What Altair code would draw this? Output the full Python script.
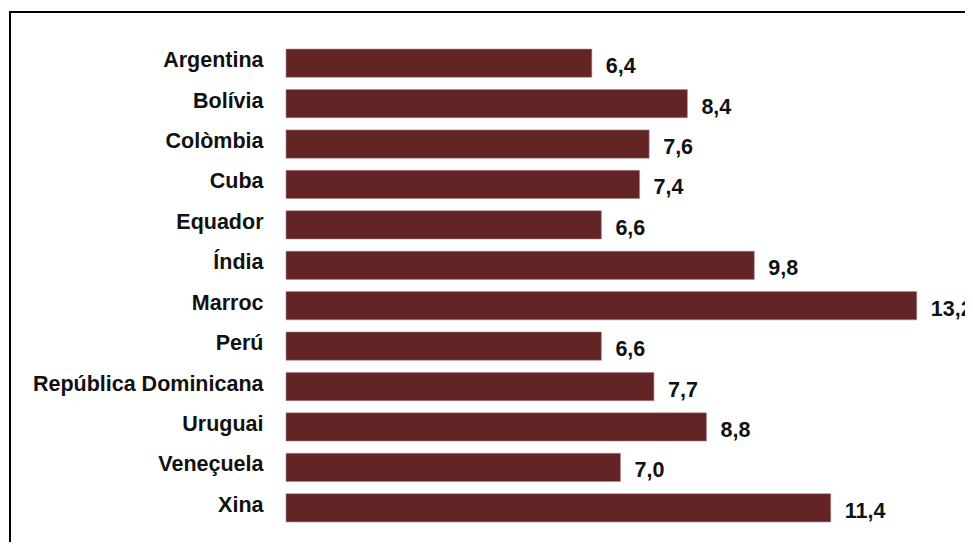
import altair as alt
import pandas as pd

countries = ["Argentina", "Bolívia", "Colòmbia", "Cuba", "Equador", "Índia", "Marroc",
             "Perú", "República Dominicana", "Uruguai", "Veneçuela", "Xina"]
values = [6.4, 8.4, 7.6, 7.4, 6.6, 9.8, 13.2, 6.6, 7.7, 8.8, 7.0, 11.4]
labels = [f"{v:.1f}".replace(".", ",") for v in values]

df = pd.DataFrame({"country": countries, "value": values, "label": labels})

FONT = "Liberation Sans, Arial, sans-serif"
COLOR = "#632425"

y_enc = alt.Y("country:N", sort=countries, title=None,
              scale=alt.Scale(paddingInner=0.3, paddingOuter=0.15),
              axis=alt.Axis(domain=False, ticks=False, labelPadding=23, labelOffset=-2,
                            labelFont=FONT, labelFontSize=21.5, labelFontWeight="bold",
                            labelColor="#111111", labelLimit=400))
x_enc = alt.X("value:Q", title=None, scale=alt.Scale(domain=[0, 14]), axis=None)

bars = alt.Chart(df).mark_bar(color=COLOR, stroke="#b08a8a", strokeWidth=0.6).encode(x=x_enc, y=y_enc)

text = alt.Chart(df).mark_text(align="left", baseline="middle", dx=14, dy=4,
                               font=FONT, fontSize=21.5, fontWeight="bold",
                               color="#111111").encode(x=x_enc, y=y_enc, text="label:N")

frame = alt.Chart(df).mark_rect(fill=None, stroke="black", strokeWidth=2).encode(
    x=alt.value(-276), x2=alt.value(1200), y=alt.value(-31), y2=alt.value(1200))

chart = alt.layer(frame, bars, text).properties(
    width=669, height=485,
    autosize=alt.AutoSizeParams(type="none"),
    padding={"left": 278, "top": 35, "right": 10, "bottom": 14},
    background="white",
).configure_view(stroke=None)

chart.save("out.html", embed_options={"renderer": "svg", "actions": False})
